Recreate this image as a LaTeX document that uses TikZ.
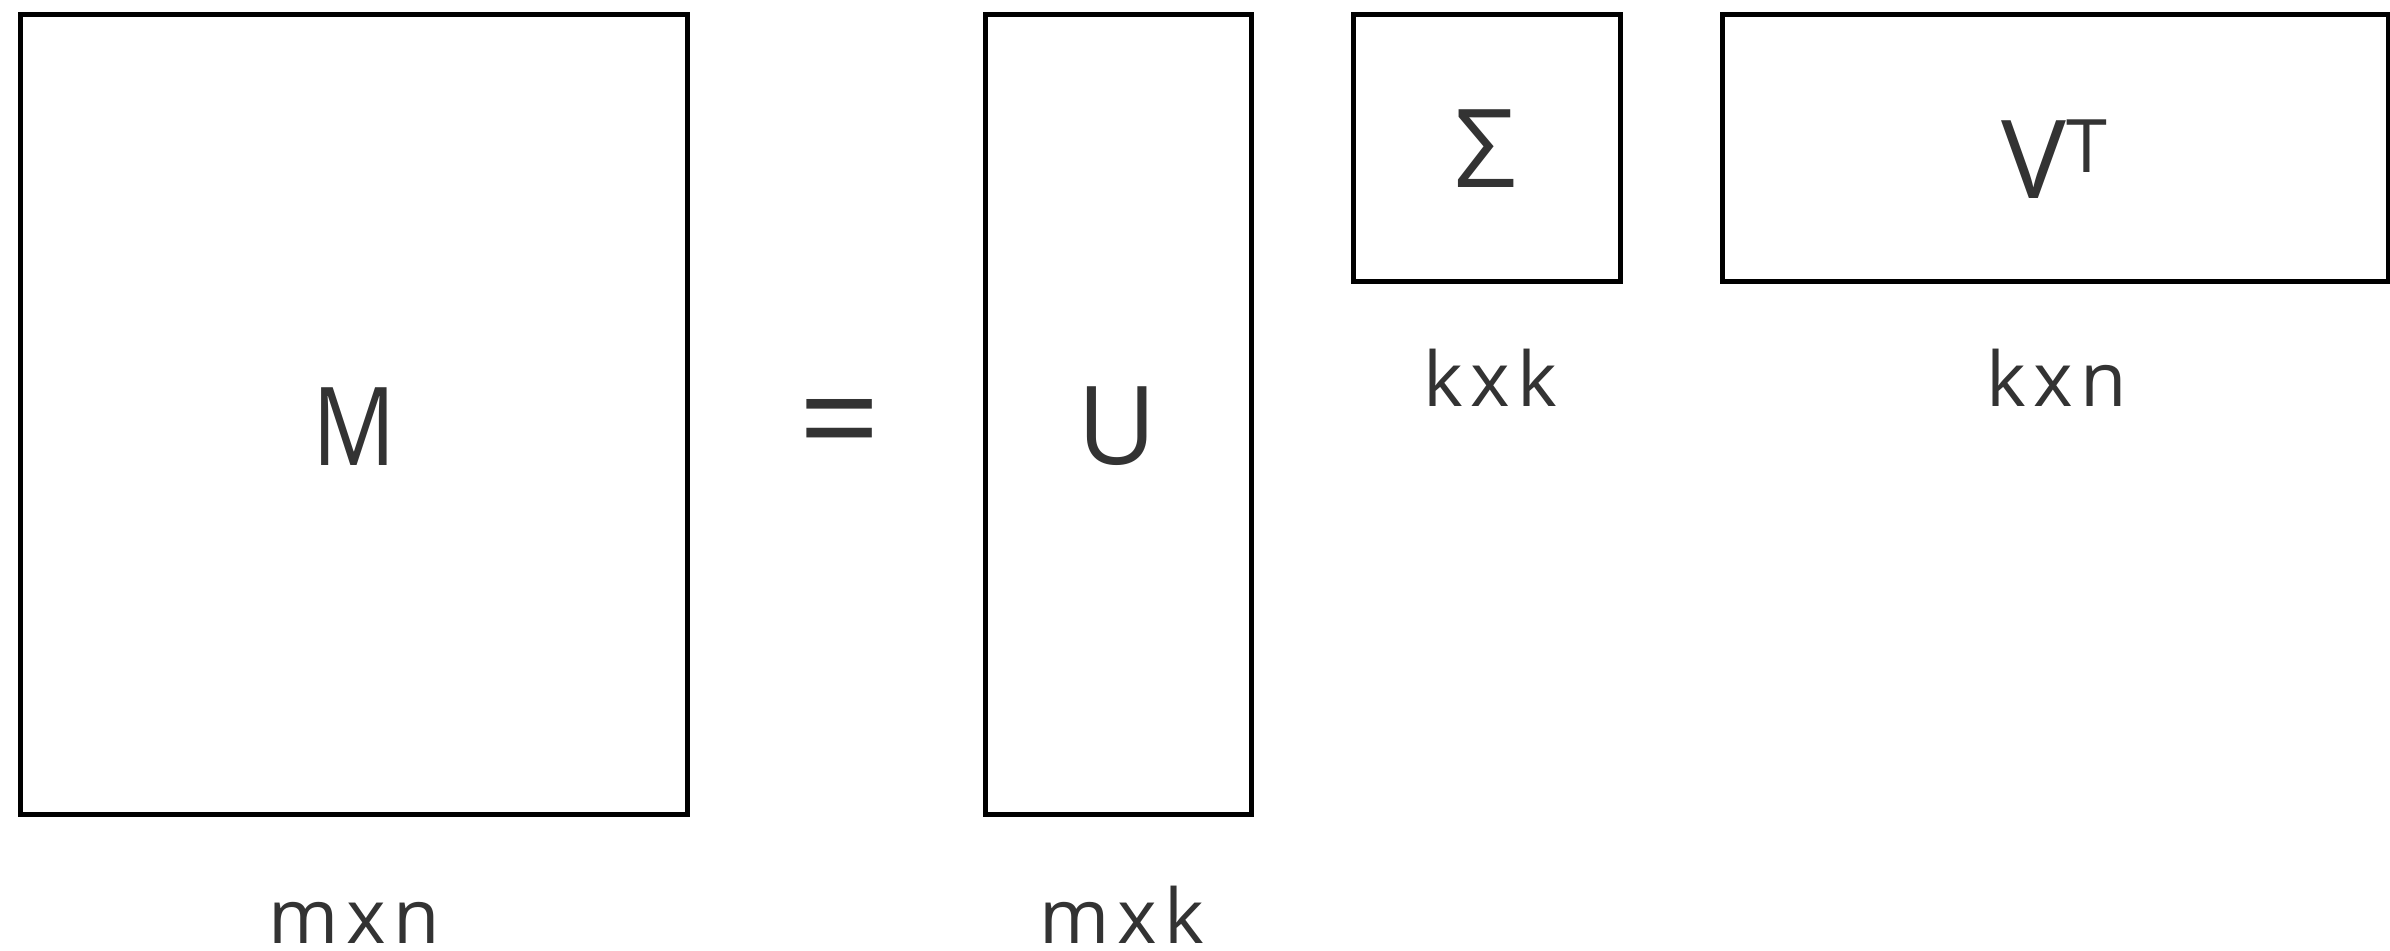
\documentclass[tikz,border=0pt]{standalone}
\usepackage{fontspec}
\setmainfont{Open Sans}
\usepackage{xcolor}
\usetikzlibrary{positioning}
\definecolor{cink}{HTML}{333333}

\begin{document}
\begin{tikzpicture}[
    mat/.style={draw=black, line width=0.05cm, inner sep=0pt},
    sym/.style={font=\fontsize{31}{36}\selectfont, text=cink, anchor=base, inner sep=0pt},
    dim/.style={font=\fontsize{21.5}{26}\selectfont\addfontfeature{LetterSpace=10},
                text=cink, anchor=base, inner sep=0pt},
]
\useasboundingbox (0,0) rectangle (23.9,-9.51);

% Matrix boxes
\node[mat, minimum width=6.665cm, minimum height=8.005cm] (M) at (3.5375,-4.1475) {};
\node[mat, minimum width=2.66cm, minimum height=8.005cm] (U) at (11.18,-4.1475) {};
\node[mat, minimum width=2.67cm, minimum height=2.67cm] (S) at (14.865,-1.48) {};
\node[mat, minimum width=6.66cm, minimum height=2.67cm] (VT) at (20.55,-1.48) {};

% Names inside the boxes
\node[sym] (Mname) at (3.54,-4.66) {\scalebox{0.85}[1]{M}};
\node[sym, font=\fontsize{41}{46}\selectfont] (eq) at (8.40,-4.70) {=};
\node[sym] (Uname) at (11.17,-4.65) {U};
\node[sym] (Sname) at (14.85,-1.88) {Σ};
\node[sym] (VTname) at (20.54,-1.99) {V\raisebox{0.26cm}{\fontsize{21}{24}\selectfont T}};

% Sizes
\node[dim] (Mdim) at (3.54,-9.44) {mxn};
\node[dim] (Udim) at (11.22,-9.44) {mxk};
\node[dim] (Sdim) at (14.90,-4.07) {kxk};
\node[dim] (VTdim) at (20.57,-4.07) {kxn};

\end{tikzpicture}
\end{document}
